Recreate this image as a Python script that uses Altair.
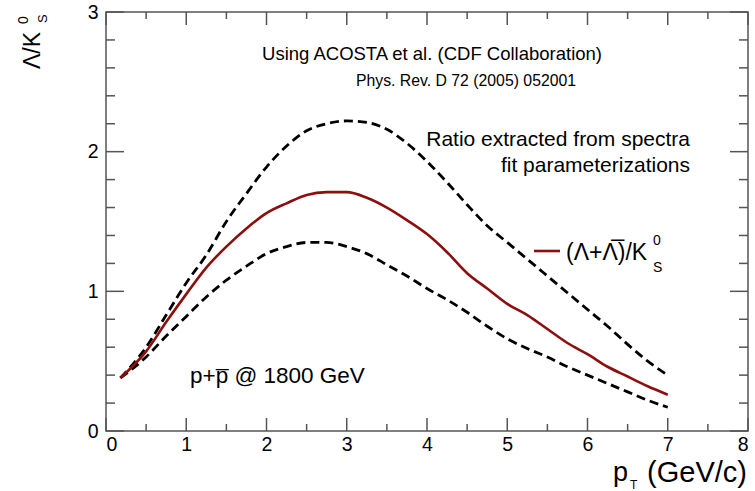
import altair as alt
import pandas as pd

# ---- data ----
pt = [0.18, 0.5, 0.75, 1.0, 1.25, 1.5, 1.75, 2.0, 2.25, 2.5, 2.75, 3.0, 3.25, 3.5,
      3.75, 4.0, 4.25, 4.5, 4.75, 5.0, 5.25, 5.5, 5.75, 6.0, 6.25, 6.5, 6.75, 7.0]
ratio_central = [0.38, 0.57, 0.78, 0.98, 1.17, 1.32, 1.45, 1.56, 1.63, 1.69, 1.71, 1.71,
                 1.67, 1.60, 1.51, 1.41, 1.28, 1.13, 1.02, 0.91, 0.83, 0.73, 0.63, 0.55,
                 0.46, 0.39, 0.32, 0.26]
ratio_upper = [0.38, 0.60, 0.83, 1.06, 1.26, 1.50, 1.70, 1.89, 2.04, 2.15, 2.20, 2.22,
               2.21, 2.16, 2.06, 1.93, 1.78, 1.62, 1.47, 1.35, 1.23, 1.11, 0.99, 0.87,
               0.75, 0.62, 0.50, 0.40]
ratio_lower = [0.38, 0.53, 0.68, 0.82, 0.96, 1.08, 1.18, 1.27, 1.32, 1.35, 1.35, 1.32,
               1.27, 1.19, 1.11, 1.02, 0.94, 0.85, 0.75, 0.66, 0.59, 0.53, 0.46, 0.40,
               0.34, 0.28, 0.22, 0.17]

x_major = [0.0, 1.0, 2.0, 3.0, 4.0, 5.0, 6.0, 7.0, 8.0]
x_minor = [0.5, 1.5, 2.5, 3.5, 4.5, 5.5, 6.5, 7.5]
y_major = [0.0, 1.0, 2.0, 3.0]
y_minor = [0.2, 0.4, 0.6, 0.8, 1.2, 1.4, 1.6, 1.8, 2.2, 2.4, 2.6, 2.8]

W, H = 642, 419
XMAX, YMAX = 8.0, 3.0
FONT = "Liberation Sans"
AXC = "#555555"
RED = "#8b0f0f"

xs = alt.Scale(domain=[0, XMAX], nice=False, zero=False)
ys = alt.Scale(domain=[0, YMAX], nice=False, zero=False)

n = len(pt)
curves = pd.DataFrame({
    "pt": pt * 3,
    "ratio": ratio_central + ratio_upper + ratio_lower,
    "curve": ["central"] * n + ["upper"] * n + ["lower"] * n,
})

# inward tick marks on all four sides, each a two-point segment (pixel length -> data units)
tk_x, tk_y, tk_id = [], [], []
for vals, px, tag in ((x_major, 13, "xM"), (x_minor, 7, "xm")):
    L = px * YMAX / H
    for v in vals:
        tk_x += [v, v]; tk_y += [0.0, L]; tk_id += [f"{tag}b{v}"] * 2
        tk_x += [v, v]; tk_y += [YMAX - L, YMAX]; tk_id += [f"{tag}t{v}"] * 2
for vals, px, tag in ((y_major, 18, "yM"), (y_minor, 9, "ym")):
    L = px * XMAX / W
    for v in vals:
        tk_x += [0.0, L]; tk_y += [v, v]; tk_id += [f"{tag}l{v}"] * 2
        tk_x += [XMAX - L, XMAX]; tk_y += [v, v]; tk_id += [f"{tag}r{v}"] * 2
ticks_df = pd.DataFrame({"tx": tk_x, "ty": tk_y, "tid": tk_id})

xaxis = alt.Axis(values=[0, 1, 2, 3, 4, 5, 6, 7, 8], ticks=False, domain=False, grid=False,
                 labelFontSize=19.5, labelPadding=4, labelFont=FONT,
                 labelColor="black", title=None, format="d")
yaxis = alt.Axis(values=[0, 1, 2, 3], ticks=False, domain=False, grid=False,
                 labelFontSize=19.5, labelPadding=8, labelFont=FONT,
                 labelColor="black", title=None, format="d")

ticks = alt.Chart(ticks_df).mark_line(color=AXC, strokeWidth=1.5).encode(
    x=alt.X("tx:Q", scale=xs, axis=xaxis),
    y=alt.Y("ty:Q", scale=ys, axis=yaxis),
    detail="tid:N",
)

base = alt.Chart(curves)

dashed = base.transform_filter(alt.datum.curve != "central").mark_line(
    color="black", strokeWidth=2.8, strokeDash=[9, 5], interpolate="monotone").encode(
    x=alt.X("pt:Q", scale=xs), y=alt.Y("ratio:Q", scale=ys), detail="curve:N")

central = base.transform_filter(alt.datum.curve == "central").mark_line(
    color=RED, strokeWidth=2.6, interpolate="monotone").encode(
    x=alt.X("pt:Q", scale=xs), y=alt.Y("ratio:Q", scale=ys))


def txt(s, x, y, size, align="left", angle=0):
    kw = dict(text=s, fontSize=size, font=FONT, align=align, baseline="alphabetic", color="black")
    if angle:
        kw["angle"] = angle
    return alt.Chart(pd.DataFrame({"a": [0]})).mark_text(**kw).encode(
        x=alt.value(x - 106), y=alt.value(y - 12))


legend_line = alt.Chart(pd.DataFrame({"a": [0]})).mark_rule(color=RED, strokeWidth=2.6).encode(
    x=alt.value(534 - 106), x2=alt.value(560 - 106), y=alt.value(251 - 12))

texts = [
    txt("Using ACOSTA et al. (CDF Collaboration)", 432, 60, 18.5, align="center"),
    txt("Phys. Rev. D 72 (2005) 052001", 466, 86, 15.8, align="center"),
    txt("Ratio extracted from spectra", 690, 146, 21, align="right"),
    txt("fit parameterizations", 690, 172, 21, align="right"),
    txt("(Λ+Λ\u0305)/K", 566, 260, 23),
    txt("0", 653, 245, 14),
    txt("S", 653, 272, 14),
    txt("p+p\u0305 @ 1800 GeV", 190, 383, 22.5),
    txt("p", 613, 481, 27),
    txt("T", 630, 489, 12),
    txt("(GeV/c)", 747, 482, 29, align="right"),
    txt("Λ/K", 40, 69, 23, angle=270),
    txt("0", 28, 24, 14, angle=270),
    txt("S", 47, 23, 13, angle=270),
]

chart = alt.layer(ticks, dashed, central, legend_line, *texts).properties(
    width=W, height=H, background="white",
    autosize=alt.AutoSizeParams(type="none"),
    padding={"left": 106, "top": 12, "right": 7, "bottom": 60},
).configure_view(stroke=AXC, strokeWidth=1.5)

chart.save("out.html", embed_options={"renderer": "svg", "actions": False})
